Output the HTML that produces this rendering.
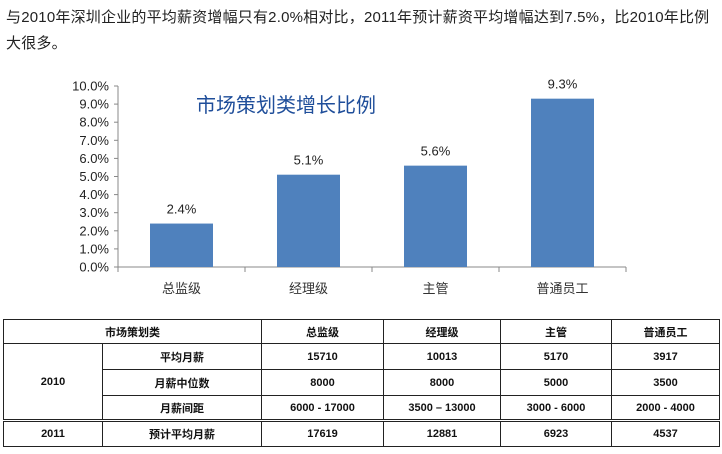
<!DOCTYPE html>
<html><head><meta charset="utf-8"><style>
body{margin:0;width:722px;height:454px;background:#fff;font-family:"Liberation Sans","Noto Sans CJK SC",sans-serif;overflow:hidden;position:relative}
#intro{position:absolute;left:6px;top:5px;width:712px;font-size:15px;line-height:26px;color:#222;letter-spacing:0.2px}
table{position:absolute;left:3px;top:319px;border-collapse:collapse;font-size:11px;color:#111;font-weight:bold}
td{border:1px solid #222;text-align:center;padding:0}
</style></head><body>
<div id="intro">与2010年深圳企业的平均薪资增幅只有2.0%相对比，2011年预计薪资平均增幅达到7.5%，比2010年比例大很多。</div>
<svg id="chart" width="722" height="310" style="position:absolute;left:0;top:0"></svg>
<table>
<colgroup><col style="width:99px"><col style="width:159px"><col style="width:122px"><col style="width:117px"><col style="width:111px"><col style="width:108px"></colgroup>
<tr style="height:24px"><td colspan="2">市场策划类</td><td>总监级</td><td>经理级</td><td>主管</td><td>普通员工</td></tr>
<tr style="height:26px"><td rowspan="3">2010</td><td>平均月薪</td><td>15710</td><td>10013</td><td>5170</td><td>3917</td></tr>
<tr style="height:26px"><td>月薪中位数</td><td>8000</td><td>8000</td><td>5000</td><td>3500</td></tr>
<tr style="height:25px" ><td>月薪间距</td><td>6000 - 17000</td><td>3500 – 13000</td><td>3000 - 6000</td><td>2000 - 4000</td></tr>
<tr style="height:26px;border-top:3px double #222"><td>2011</td><td>预计平均月薪</td><td>17619</td><td>12881</td><td>6923</td><td>4537</td></tr>
</table>
<script>
const categories=["总监级","经理级","主管","普通员工"];
const values=[2.4,5.1,5.6,9.3];
const valueLabels=["2.4%","5.1%","5.6%","9.3%"];
const ticks=[0,1,2,3,4,5,6,7,8,9,10];
const svg=document.getElementById('chart');const NS='http://www.w3.org/2000/svg';
const x0=118,x1=626,y0=267,yTop=86,bw=63;
const y=v=>y0-(v/10)*(y0-yTop);
const band=(x1-x0)/categories.length;
const cx=i=>x0+band*(i+0.5);
function mk(t,a,txt){const e=document.createElementNS(NS,t);for(const k in a)e.setAttribute(k,a[k]);if(txt!=null)e.textContent=txt;svg.appendChild(e);return e;}
let e=mk('line',{x1:x0,y1:yTop,x2:x0,y2:y0,stroke:'#888'});


e=mk('line',{x1:x0,y1:y0,x2:x1,y2:y0,stroke:'#888'});


ticks.forEach(t=>{
 mk('line',{x1:x0-4,y1:y(t),x2:x0,y2:y(t),stroke:'#888'});
 e=mk('text',{x:x0-9,y:y(t)+4.5,'text-anchor':'end','font-size':'13','font-family':'Liberation Sans, sans-serif',fill:'#222'},t.toFixed(1)+'%');
 
 
});
for(let i=0;i<=categories.length;i++)mk('line',{x1:x0+band*i,y1:y0,x2:x0+band*i,y2:y0+5,stroke:'#888'});
categories.forEach((c,i)=>{
 e=mk('rect',{x:cx(i)-bw/2,y:y(values[i]),width:bw,height:y0-y(values[i]),fill:'#4f81bd'});
 
 
 e=mk('text',{x:cx(i),y:y(values[i])-10,'text-anchor':'middle','font-size':'13','fill':'#222'},valueLabels[i]);
 
 
 e=mk('text',{x:cx(i),y:y0+26,'text-anchor':'middle','font-size':'13','fill':'#333','font-family':'Liberation Sans, Noto Sans CJK SC, sans-serif'},c);
 
 
});
e=mk('text',{x:196,y:112,'font-size':'20','fill':'#1f4e9a','font-family':'Liberation Sans, Noto Sans CJK SC, sans-serif'},'市场策划类增长比例');


</script>
</body></html>
